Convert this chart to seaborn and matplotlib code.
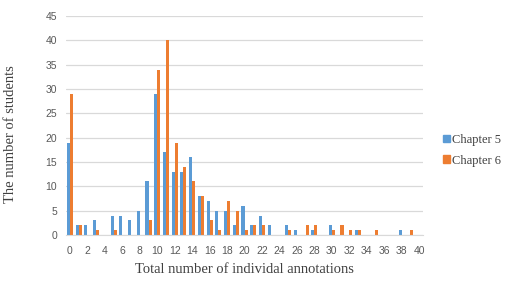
import numpy as np
import pandas as pd
import seaborn as sns
import matplotlib.pyplot as plt
from matplotlib.patches import Patch

# counts per number of annotations (0..40)
annotations = list(range(41))
chapter5 = [19, 2, 2, 3, 0, 4, 4, 3, 5, 11,
            29, 17, 13, 13, 16, 8, 7, 5, 5, 2,
            6, 2, 4, 2, 0, 2, 1, 0, 1, 0,
            2, 0, 0, 1, 0, 0, 0, 0, 1, 0, 0]
chapter6 = [29, 2, 0, 1, 0, 1, 0, 0, 0, 3,
            34, 40, 19, 14, 11, 8, 3, 1, 7, 5,
            1, 2, 2, 0, 0, 1, 0, 2, 2, 0,
            1, 2, 1, 1, 0, 1, 0, 0, 0, 1, 0]
series = ["Chapter 5", "Chapter 6"]
colors = ["#5B9BD5", "#ED7D31"]

dt = pd.concat([
    pd.DataFrame({"x": annotations, "n": chapter5, "chapter": series[0]}),
    pd.DataFrame({"x": annotations, "n": chapter6, "chapter": series[1]}),
])

sns.set_style("white")
fig = plt.figure(figsize=(5.22, 2.89), dpi=100)
ax = fig.add_axes([0.1257, 0.1869, 0.6854, 0.7577])

sns.barplot(data=dt, x="x", y="n", hue="chapter", order=annotations,
            palette=colors, width=0.7, ax=ax, legend=False, saturation=1,
            linewidth=0)

ax.set_ylim(0, 45)
ax.set_yticks(range(0, 46, 5))
ax.set_xlim(-0.5, 40.5)
ax.set_xticks(range(0, 41, 2))
ax.set_xticklabels([str(i) for i in range(0, 41, 2)])
ax.yaxis.grid(True, color="#D9D9D9", linewidth=0.9)
ax.set_axisbelow(True)
for s in ["top", "right", "left"]:
    ax.spines[s].set_visible(False)
ax.spines["bottom"].set_color("#D9D9D9")
ax.tick_params(axis="both", length=0, labelsize=7.5, colors="#595959")
ax.tick_params(axis="x", pad=8)
ax.tick_params(axis="y", pad=6)
for lab in ax.get_xticklabels() + ax.get_yticklabels():
    lab.set_family("Liberation Sans")

ax.set_xlabel("Total number of individal annotations", family="Liberation Serif",
              fontsize=10.5, color="#404040", labelpad=5)
ax.set_ylabel("The number of students", family="Liberation Serif",
              fontsize=10.5, color="#404040")
ax.yaxis.set_label_coords(-0.136, 0.46)

handles = [Patch(color=c) for c in colors]
ax.legend(handles, series, loc="center left", bbox_to_anchor=(0.827, 0.48),
          bbox_transform=fig.transFigure, frameon=False, handlelength=0.55,
          handleheight=0.55, handletextpad=0.2, labelspacing=0.7,
          prop={"family": "Liberation Serif", "size": 9})
for t in ax.get_legend().get_texts():
    t.set_color("#404040")

fig.savefig("out.png", dpi=100)
